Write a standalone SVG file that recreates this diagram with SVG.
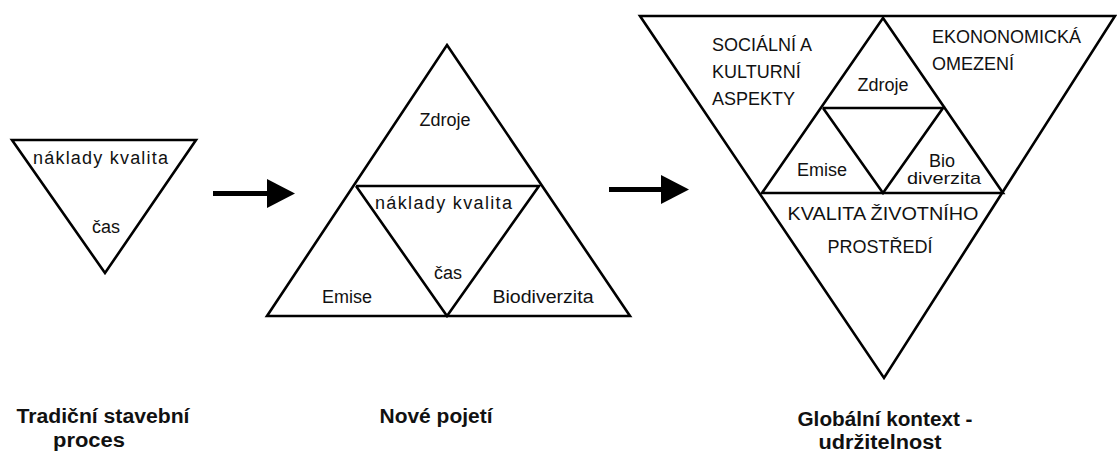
<svg xmlns="http://www.w3.org/2000/svg" width="1117" height="452" viewBox="0 0 1117 452">
<style>
.tri{fill:none;stroke:#000;stroke-width:2.6;stroke-linejoin:miter}
.ln{fill:none;stroke:#000;stroke-width:2.6}
.t{font-family:"Liberation Sans",Arial,sans-serif;font-size:18px;fill:#111;text-anchor:middle}
.s{font-family:"Liberation Sans",Arial,sans-serif;font-size:17px;fill:#111;text-anchor:middle}
.tl{font-family:"Liberation Sans",Arial,sans-serif;font-size:18px;fill:#111}
.cap{font-family:"Liberation Sans",Arial,sans-serif;font-size:20px;font-weight:bold;fill:#111;text-anchor:middle}
.arr{stroke:#000;stroke-width:5;fill:none}
</style>
<defs>
<marker id="ah" markerUnits="userSpaceOnUse" markerWidth="30" markerHeight="30" refX="0" refY="14.5" orient="auto">
<path d="M0,0 L28,14.5 L0,29 Z" fill="#000"/>
</marker>
</defs>

<g id="traditional">
<polygon class="tri" points="12,140 196,140 105,273"/>
<text class="t" x="100.5" y="164" textLength="135" lengthAdjust="spacing">náklady  kvalita</text>
<text class="t" x="106" y="233">čas</text>
</g>

<g id="new-concept">
<polygon class="tri" points="447,45 630,316 267,316"/>
<polyline class="ln" points="356,186 539,186 447,316 356,186"/>
<text class="t" x="445" y="126">Zdroje</text>
<text class="t" x="443.5" y="209" textLength="137" lengthAdjust="spacing">náklady  kvalita</text>
<text class="t" x="448" y="279">čas</text>
<text class="t" x="347" y="303">Emise</text>
<text class="t" x="543" y="303" textLength="101" lengthAdjust="spacingAndGlyphs">Biodiverzita</text>
</g>

<g id="global-context">
<polygon class="tri" points="640,16 1115,16 884,378"/>
<polygon class="ln" points="883,18 1003,193 762,193"/>
<polyline class="ln" points="823,108 943,108 883,193 823,108"/>
<text class="tl" x="712" y="51">SOCIÁLNÍ A</text>
<text class="tl" x="712" y="78">KULTURNÍ</text>
<text class="tl" x="712" y="105">ASPEKTY</text>
<text class="tl" x="932" y="43">EKONONOMICKÁ</text>
<text class="tl" x="932" y="70">OMEZENÍ</text>
<text class="t" x="883" y="91">Zdroje</text>
<text class="t" x="822" y="176">Emise</text>
<text class="t" x="942" y="167">Bio</text>
<text class="s" x="944" y="184" textLength="74" lengthAdjust="spacingAndGlyphs">diverzita</text>
<text class="t" x="883" y="220" textLength="191" lengthAdjust="spacingAndGlyphs">KVALITA ŽIVOTNÍHO</text>
<text class="t" x="880" y="253">PROSTŘEDÍ</text>
</g>

<g id="captions">
<text class="cap" x="103" y="423" textLength="173" lengthAdjust="spacingAndGlyphs">Tradiční stavební</text>
<text class="cap" x="89" y="447" textLength="72" lengthAdjust="spacingAndGlyphs">proces</text>
<text class="cap" x="436" y="423" textLength="113" lengthAdjust="spacingAndGlyphs">Nové pojetí</text>
<text class="cap" x="885" y="426" textLength="175" lengthAdjust="spacingAndGlyphs">Globální kontext -</text>
<text class="cap" x="880" y="449" textLength="123" lengthAdjust="spacingAndGlyphs">udržitelnost</text>
</g>

<g id="connectors">
<line class="arr" x1="213" y1="193.5" x2="267" y2="193.5" marker-end="url(#ah)"/>
<line class="arr" x1="609" y1="189.5" x2="661" y2="189.5" marker-end="url(#ah)"/>
</g>
</svg>
